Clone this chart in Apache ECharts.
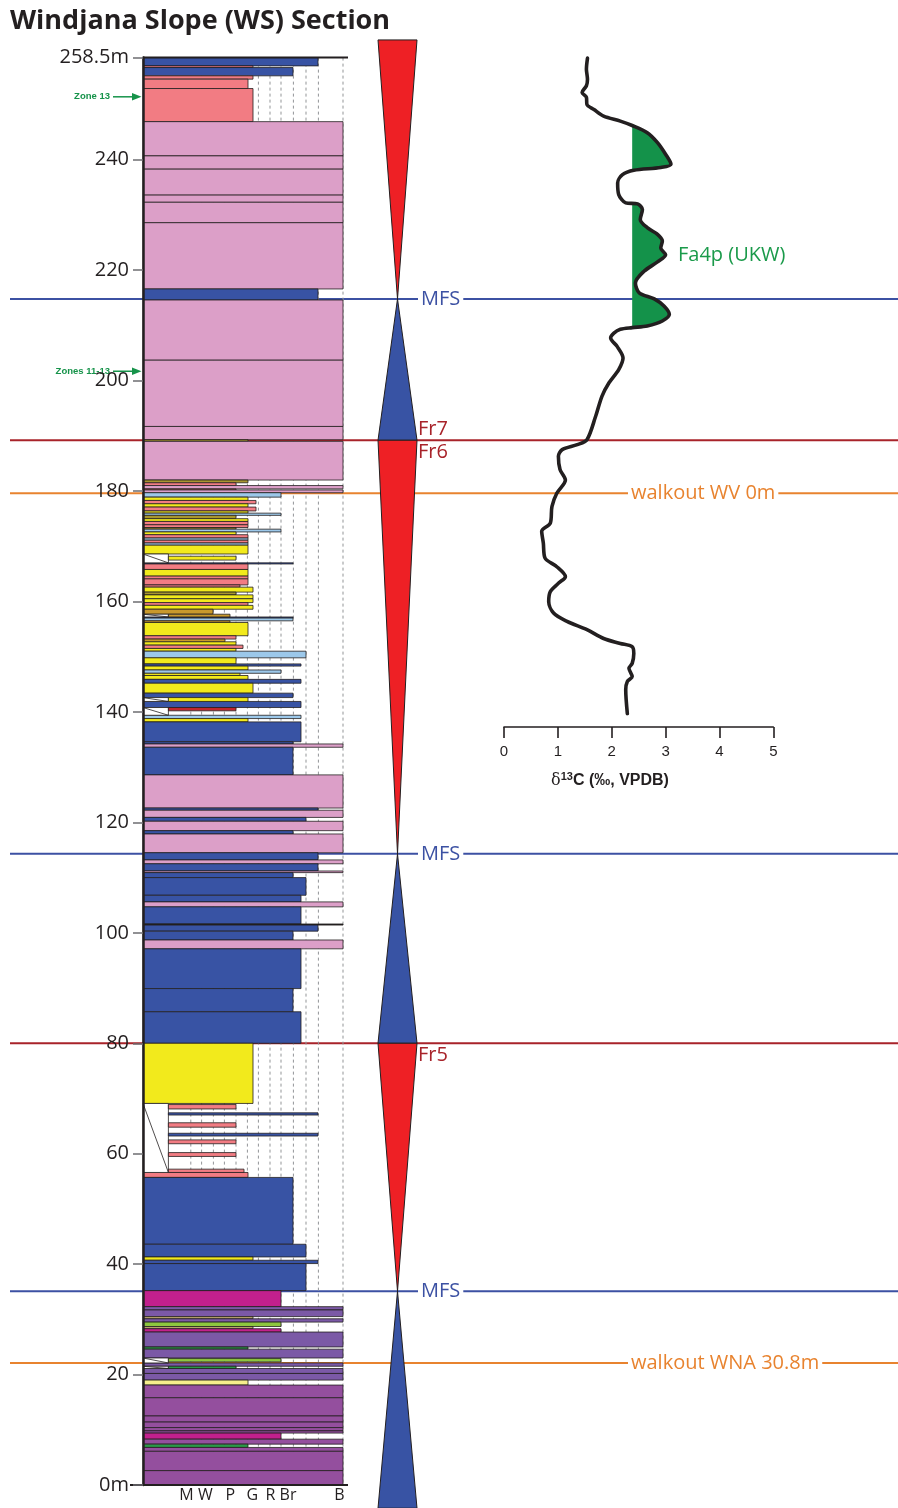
<!DOCTYPE html>
<html>
<head>
<meta charset="utf-8">
<title>Windjana Slope (WS) Section</title>
<script src="https://cdn.jsdelivr.net/npm/echarts@6/dist/echarts.min.js"></script>
<style>
  html, body { margin: 0; padding: 0; background: #ffffff; }
  #chart { width: 898px; height: 1508px; }
</style>
</head>
<body>
<div id="chart"></div>
<script>
// ---------------------------------------------------------------
// Section data (depths in metres above base of section)
// ---------------------------------------------------------------
const depthTicks = [0, 20, 40, 60, 80, 100, 120, 140, 160, 180, 200, 220, 240, 258.5];
const sectionTop = 258.5;

// Texture scale across the column (Dunham classes)
const grainLabels = ['M', 'W', 'P', 'G', 'R', 'Br', 'B'];
const grainLabelPos = [2.17, 3.12, 4.36, 5.47, 6.37, 7.25, 9.82];
const grainGuides = [2.39, 2.93, 3.52, 4.07, 4.65, 5.22, 5.77, 6.35, 6.9, 7.52, 8.15, 8.77, 10];

// Beds: [top, base, texture, lithofacies]
const upperBeds = [
  [258.5, 257.0, 8.75, 'blue'], [257.0, 256.7, 5.5, 'salmon'], [256.7, 255.2, 7.5, 'blue'],
  [255.2, 254.6, 5.5, 'salmon'], [254.6, 252.9, 5.25, 'salmon'], [252.9, 246.9, 5.5, 'salmon'],
  [246.9, 240.7, 10, 'pink'], [240.7, 238.3, 10, 'pink'], [238.3, 233.6, 10, 'pink'],
  [233.6, 232.3, 10, 'pink'], [232.3, 228.6, 10, 'pink'], [228.6, 216.6, 10, 'pink'],
  [216.6, 214.6, 8.75, 'blue'], [214.6, 203.7, 10, 'pink'], [203.7, 191.7, 10, 'pink'],
  [191.7, 189.3, 10, 'pink'], [189.3, 189.0, 5.25, 'olive'], [189.0, 182.0, 10, 'pink']
];
const thinBedsUpper = [
  [182.0, 181.5, 5.25, 'olive'], [181.5, 181.0, 4.65, 'salmon'], [181.0, 180.4, 10, 'pink'],
  [180.4, 180.2, 4.65, 'salmon'], [180.2, 179.7, 10, 'pink'], [179.7, 178.9, 6.9, 'lightblue'],
  [178.9, 178.3, 5.25, 'yellow'], [178.3, 177.7, 5.65, 'salmon'], [177.7, 177.1, 5.25, 'yellow'],
  [177.1, 176.4, 5.65, 'salmon'], [176.4, 176.0, 5.25, 'yellow'], [176.0, 175.6, 6.9, 'lightblue'],
  [175.6, 175.0, 4.65, 'olive'], [175.0, 174.5, 5.25, 'yellow'], [174.5, 173.9, 5.25, 'salmon'],
  [173.9, 173.4, 5.25, 'salmon'], [173.4, 173.1, 4.65, 'olive'], [173.1, 172.6, 6.9, 'lightblue'],
  [172.6, 172.1, 4.65, 'yellow'], [172.1, 171.5, 5.25, 'salmon'], [171.5, 171.1, 5.25, 'lightblue'],
  [171.1, 170.6, 5.25, 'salmon'], [170.6, 170.2, 5.25, 'lightblue'], [170.2, 168.6, 5.25, 'yellow'],
  [167.0, 166.8, 7.5, 'blue'], [166.8, 165.8, 5.25, 'salmon'], [165.8, 164.6, 5.25, 'yellow'],
  [164.6, 164.1, 5.25, 'salmon'], [164.1, 163.0, 5.25, 'salmon'], [163.0, 162.6, 4.85, 'salmon'],
  [162.6, 161.7, 5.5, 'yellow'], [161.7, 161.2, 4.65, 'olive'], [161.2, 160.5, 5.5, 'yellow'],
  [160.5, 159.8, 5.5, 'yellow'], [159.8, 159.3, 5.25, 'salmon'], [159.3, 158.6, 5.5, 'yellow'],
  [158.6, 157.7, 3.5, 'gold']
];
const thinBedsLower = [
  [157.2, 157.0, 7.5, 'blue'], [157.0, 156.5, 7.5, 'lightblue'], [156.5, 156.2, 4.35, 'gold'],
  [156.2, 153.8, 5.25, 'yellow'], [153.8, 153.2, 4.65, 'salmon'], [153.2, 152.7, 4.1, 'gold'],
  [152.7, 152.1, 4.65, 'yellow'], [152.1, 151.5, 5.0, 'salmon'], [151.5, 151.0, 4.65, 'yellow'],
  [151.0, 149.8, 8.15, 'lightblue'], [149.8, 148.7, 4.65, 'yellow'], [148.7, 148.3, 7.9, 'blue'],
  [148.3, 147.6, 5.25, 'yellow'], [147.6, 147.0, 6.9, 'lightblue'], [147.0, 146.6, 4.85, 'yellow'],
  [146.6, 145.9, 5.25, 'yellow'], [145.9, 145.2, 7.9, 'blue'], [145.2, 143.4, 5.5, 'yellow'],
  [143.4, 142.6, 7.5, 'blue'], [141.9, 140.8, 7.9, 'blue'], [139.4, 138.8, 7.9, 'lightblue'],
  [138.8, 138.2, 5.25, 'yellow']
];
const middleBeds = [
  [138.2, 134.6, 7.9, 'blue'], [134.6, 134.2, 7.5, 'blue'], [134.2, 133.6, 10, 'pink'],
  [133.6, 128.6, 7.5, 'blue'], [128.6, 122.6, 10, 'pink'], [122.6, 122.2, 8.75, 'blue'],
  [122.2, 120.9, 10, 'pink'], [120.9, 120.2, 8.15, 'blue'], [120.2, 118.5, 10, 'pink'],
  [118.5, 117.9, 7.5, 'blue'], [117.9, 114.5, 10, 'pink'], [114.5, 113.2, 8.75, 'blue'],
  [113.2, 112.5, 10, 'pink'], [112.5, 111.2, 8.75, 'blue'], [111.2, 110.9, 10, 'pink'],
  [110.9, 110.0, 7.5, 'blue'], [110.0, 106.8, 8.15, 'blue'], [106.8, 105.6, 7.9, 'blue'],
  [105.6, 104.7, 10, 'pink'], [104.7, 101.6, 7.9, 'blue'], [101.6, 101.4, 10, 'dark'],
  [101.4, 100.3, 8.75, 'blue'], [100.3, 98.7, 7.5, 'blue'], [98.7, 97.1, 10, 'pink'],
  [97.1, 89.9, 7.9, 'blue'], [89.9, 85.7, 7.5, 'blue'], [85.7, 80.0, 7.9, 'blue'],
  [80.0, 69.1, 5.5, 'yellow']
];
const lowerBeds = [
  [56.6, 55.7, 5.25, 'salmon'], [55.7, 43.6, 7.5, 'blue'], [43.6, 41.3, 8.15, 'blue'],
  [41.3, 40.7, 5.5, 'yellow'], [40.7, 40.1, 8.75, 'blue'], [40.1, 35.2, 8.15, 'blue'],
  [35.2, 32.3, 6.9, 'magenta'], [32.3, 31.7, 10, 'purple'], [31.7, 30.5, 10, 'purple'],
  [30.5, 30.1, 5.5, 'tan'], [30.1, 29.5, 10, 'purple'], [29.5, 28.7, 6.9, 'lightgreen'],
  [28.7, 28.3, 5.5, 'tan'], [28.3, 27.7, 6.9, 'magenta'], [27.7, 25.0, 10, 'purple'],
  [25.0, 24.6, 5.25, 'green'], [24.6, 23.0, 10, 'purple'], [22.1, 21.5, 10, 'purple'],
  [21.1, 20.2, 10, 'purple'], [20.2, 19.0, 10, 'purple'], [19.0, 18.1, 5.25, 'lightyellow'],
  [18.1, 15.8, 10, 'purple2'], [15.8, 12.5, 10, 'purple2'], [12.5, 11.4, 10, 'purple2'],
  [11.4, 10.4, 10, 'purple2'], [10.4, 9.8, 10, 'purple2'], [9.8, 9.4, 10, 'purple2'],
  [9.4, 8.3, 6.9, 'magenta'], [8.3, 7.4, 10, 'purple2'], [7.4, 6.8, 5.25, 'green'],
  [6.8, 6.1, 10, 'purple2'], [6.1, 2.6, 10, 'purple2'], [2.6, 0.0, 10, 'purple2']
];

// Covered (no exposure) intervals: [top, base]
const coveredIntervals = [
  [168.6, 167.0], [157.7, 157.2], [142.6, 141.9], [140.8, 139.4],
  [69.1, 56.6], [23.0, 22.1], [21.5, 21.1]
];
// Float beds inside covered intervals: [top, base, texture, lithofacies]
const coveredBeds = [
  [168.2, 167.5, 4.65, 'yellow'], [157.7, 157.2, 4.35, 'gold'], [142.6, 141.9, 5.25, 'yellow'],
  [140.8, 140.2, 4.65, 'darkred'], [68.9, 68.1, 4.65, 'salmon'], [67.4, 67.0, 8.75, 'blue'],
  [65.6, 64.8, 4.65, 'salmon'], [63.7, 63.2, 8.75, 'blue'], [62.5, 61.8, 4.65, 'salmon'],
  [60.2, 59.5, 4.65, 'salmon'], [57.2, 56.6, 5.05, 'salmon'], [22.9, 22.3, 6.9, 'lightgreen'],
  [21.5, 21.1, 4.65, 'green']
];
const coverWidth = 1.27;

// Biostratigraphic markers
const zoneDepths = [251.4, 201.7];
const zoneLabels = ['Zone 13', 'Zones 11-13'];

// Sequence wedges: [wide end, apex, half-cycle]
const sequenceWedges = [
  [261.7, 214.8, 'regressive'], [189.2, 214.8, 'transgressive'],
  [189.2, 114.3, 'regressive'], [80.0, 114.3, 'transgressive'],
  [80.0, 35.1, 'regressive'], [-4.2, 35.1, 'transgressive']
];

// Correlation surfaces
const surfaceDepths = [214.8, 189.2, 179.6, 114.3, 80.0, 35.1, 22.1];
const surfaceKinds = ['mfs', 'fr', 'walkout', 'mfs', 'fr', 'mfs', 'walkout'];
const surfaceLabelsAbove = ['', 'Fr7', '', '', '', '', ''];
const surfaceLabelsOn = ['MFS', '', 'walkout WV 0m', 'MFS', '', 'MFS', 'walkout WNA 30.8m'];
const surfaceLabelsBelow = ['', 'Fr6', '', '', 'Fr5', '', ''];

// Carbon isotope profile (δ13C ‰ VPDB) against depth
const isoDepth = [
  258.4, 256.4, 254.6, 253.4, 252.2, 251.3, 250.0, 249.1, 247.9, 247.0,
  246.2, 244.9, 243.1, 241.0, 239.2, 238.6, 238.1, 237.3, 235.8, 233.7,
  232.2, 232.0, 231.0, 229.2, 227.7, 226.5, 225.3, 224.0, 222.8, 221.5,
  219.8, 217.7, 215.9, 214.8, 213.5, 212.0, 210.8, 209.9, 209.6, 209.3,
  208.6, 207.7, 206.2, 204.1, 202.0, 199.6, 197.2, 193.5, 189.3, 188.4,
  187.5, 186.3, 183.9, 182.0, 179.6, 177.2, 174.2, 172.7, 170.6, 167.9,
  166.3, 164.5, 163.3, 161.8, 160.0, 157.9, 156.4, 154.9, 153.3, 152.4,
  151.8, 150.6, 148.8, 147.9, 146.4, 145.5, 144.0, 139.7
];
const isoValue = [
  1.55, 1.53, 1.55, 1.53, 1.45, 1.53, 1.54, 1.67, 1.85, 2.16,
  2.38, 2.66, 2.85, 3.00, 3.10, 2.91, 2.41, 2.20, 2.11, 2.13,
  2.26, 2.48, 2.57, 2.53, 2.66, 2.85, 2.94, 2.91, 3.00, 2.85,
  2.60, 2.44, 2.51, 2.79, 2.97, 3.07, 2.94, 2.66, 2.38, 2.16,
  2.04, 1.98, 2.10, 2.21, 2.13, 1.95, 1.82, 1.70, 1.54, 1.36,
  1.08, 1.01, 1.04, 1.14, 0.98, 0.89, 0.86, 0.70, 0.73, 0.76,
  0.98, 1.14, 1.01, 0.86, 0.83, 0.92, 1.17, 1.54, 1.85, 2.16,
  2.38, 2.41, 2.38, 2.32, 2.38, 2.29, 2.26, 2.29
];
const isoTicks = [0, 1, 2, 3, 4, 5];
// Fa4p (UKW) positive excursion: baseline value and depth range
const fa4pBaseline = 2.38;
const fa4pRange = [209.6, 246.2];
const fa4pLabelAt = [3.23, 222.7];

// ---------------------------------------------------------------
// Styles
// ---------------------------------------------------------------
const lithColors = {
  pink: '#dc9fc8', blue: '#3853a4', salmon: '#f27c83', yellow: '#f2ea1c',
  lightblue: '#9cc8ea', olive: '#a8962f', gold: '#c9992c', darkred: '#c1272d',
  magenta: '#c2208d', purple: '#7b59a6', purple2: '#944f9e', lightgreen: '#8dc63f',
  green: '#2a9a48', lightyellow: '#f6ee8c', tan: '#bba66c', dark: '#231f20'
};
const INK = '#231f20';
const MFS_BLUE = '#3c51a3';
const FR_RED = '#a8232a';
const WALK_ORANGE = '#e8832f';
const ZONE_GREEN = '#16934a';
const LABEL_FONT = '"Open Sans", "Noto Sans", sans-serif';
const SEQ_LABEL_X = 418;
const WALKOUT_LABEL_X = 628;

const GRID_TOP = 57.6;
const GRID_BOTTOM = 23;

const allBeds = [].concat(upperBeds, thinBedsUpper, thinBedsLower, middleBeds, lowerBeds);

function bedRect(api, x0, top, x1, base, fill) {
  const p0 = api.coord([x0, top]);
  const p1 = api.coord([x1, base]);
  return {
    type: 'rect',
    shape: { x: p0[0], y: p0[1], width: p1[0] - p0[0], height: p1[1] - p0[1] },
    style: { fill: fill, stroke: INK, lineWidth: 0.8 }
  };
}

const chart = echarts.init(document.getElementById('chart'), null, { renderer: 'canvas' });

const option = {
  backgroundColor: '#ffffff',
  animation: false,
  graphic: [
    {
      type: 'text', left: 10, top: 8, z: 20,
      style: { text: 'Windjana Slope (WS) Section', font: 'bold 27px "Open Sans", sans-serif', fill: INK }
    },
    {
      type: 'text', x: 610, y: 780, z: 20,
      style: {
        text: '{d|δ}{s|13}{c|C (‰, VPDB)}',
        align: 'center', verticalAlign: 'middle', textAlign: 'center', textVerticalAlign: 'middle',
        rich: {
          d: { font: '16px "DejaVu Serif", serif', fill: INK, verticalAlign: 'bottom' },
          s: { font: 'bold 11px "Liberation Sans", Arial, sans-serif', fill: INK, verticalAlign: 'top', padding: [0, 0, 6, 0] },
          c: { font: 'bold 16px "Liberation Sans", Arial, sans-serif', fill: INK, verticalAlign: 'bottom' }
        }
      }
    }
  ],
  grid: [
    { left: 143, width: 200, top: GRID_TOP, bottom: GRID_BOTTOM },
    { left: 378, width: 39, top: GRID_TOP, bottom: GRID_BOTTOM },
    { left: 10, right: 0, top: GRID_TOP, bottom: GRID_BOTTOM },
    { left: 504, width: 269.3, top: GRID_TOP, bottom: 781 }
  ],
  xAxis: [
    {
      gridIndex: 0, type: 'value', min: 0, max: 10,
      axisLine: { show: false }, axisTick: { show: false }, splitLine: { show: false },
      axisLabel: {
        customValues: grainLabelPos,
        formatter: function (v) { return grainLabels[grainLabelPos.indexOf(v)] || ''; },
        fontSize: 16, fontFamily: LABEL_FONT, color: INK, margin: 2
      }
    },
    { gridIndex: 1, type: 'value', min: -1, max: 1, show: false },
    { gridIndex: 2, type: 'value', min: 0, max: 1, show: false },
    {
      gridIndex: 3, type: 'value', min: 0, max: 5, interval: 1, position: 'bottom',
      axisLine: { show: true, onZero: false, lineStyle: { color: INK, width: 1.6 } },
      axisTick: { show: true, length: 11, lineStyle: { color: INK, width: 1.6 } },
      splitLine: { show: false },
      axisLabel: {
        customValues: isoTicks, fontSize: 15, color: INK, margin: 17,
        fontFamily: '"Liberation Sans", Arial, sans-serif'
      }
    }
  ],
  yAxis: [
    {
      gridIndex: 0, type: 'value', min: 0, max: sectionTop, z: 10,
      axisLine: { show: true, onZero: false, lineStyle: { color: INK, width: 2.5 } },
      axisTick: { show: true, customValues: depthTicks, length: 10, lineStyle: { color: '#6d6e71', width: 1.5 } },
      splitLine: { show: false },
      axisLabel: {
        customValues: depthTicks,
        formatter: function (v) { return (v === 0 || v === sectionTop) ? v + 'm' : String(v); },
        fontSize: 20, fontFamily: LABEL_FONT, color: INK, margin: 14
      }
    },
    { gridIndex: 1, type: 'value', min: 0, max: sectionTop, show: false },
    { gridIndex: 2, type: 'value', min: 0, max: sectionTop, show: false },
    { gridIndex: 3, type: 'value', min: 137.27, max: sectionTop, show: false }
  ],
  series: [
    // correlation surfaces across the whole panel
    {
      type: 'custom', name: 'surfaces', xAxisIndex: 2, yAxisIndex: 2, z: 1, clip: false,
      data: surfaceDepths.map(function (d) { return [0, d]; }),
      renderItem: function (params, api) {
        const i = params.dataIndex;
        const kind = surfaceKinds[i];
        const color = kind === 'mfs' ? MFS_BLUE : (kind === 'fr' ? FR_RED : WALK_ORANGE);
        const a = api.coord([0, surfaceDepths[i]]);
        const b = api.coord([1, surfaceDepths[i]]);
        const children = [{
          type: 'line', shape: { x1: a[0], y1: a[1], x2: b[0], y2: b[1] },
          style: { stroke: color, lineWidth: 2 }
        }];
        const lx = kind === 'walkout' ? WALKOUT_LABEL_X : SEQ_LABEL_X;
        function txt(t, dy, bg) {
          const s = {
            text: t, x: lx, y: a[1] + dy, fill: color, font: '20px ' + LABEL_FONT,
            align: 'left', verticalAlign: 'middle', textAlign: 'left', textVerticalAlign: 'middle'
          };
          if (bg) { s.backgroundColor = '#ffffff'; s.padding = [0, 3, 0, 3]; }
          return { type: 'text', z2: 5, style: s };
        }
        if (surfaceLabelsOn[i]) children.push(txt(surfaceLabelsOn[i], 0, true));
        if (surfaceLabelsAbove[i]) children.push(txt(surfaceLabelsAbove[i], -11, false));
        if (surfaceLabelsBelow[i]) children.push(txt(surfaceLabelsBelow[i], 12, false));
        return { type: 'group', children: children };
      }
    },
    // texture guide lines behind the column
    {
      type: 'custom', name: 'guides', xAxisIndex: 0, yAxisIndex: 0, z: 2, clip: false,
      data: grainGuides.map(function (g) { return [g, 0]; }),
      renderItem: function (params, api) {
        const g = grainGuides[params.dataIndex];
        const a = api.coord([g, sectionTop]);
        const b = api.coord([g, 0]);
        return {
          type: 'line', shape: { x1: a[0], y1: a[1], x2: b[0], y2: b[1] },
          style: { stroke: '#939598', lineWidth: 1, lineDash: [3, 3] }
        };
      }
    },
    // lithological column
    {
      type: 'custom', name: 'beds', xAxisIndex: 0, yAxisIndex: 0, z: 3, clip: false,
      data: allBeds.map(function (b) { return [b[2], b[0], b[1]]; }),
      renderItem: function (params, api) {
        const b = allBeds[params.dataIndex];
        return bedRect(api, 0, b[0], b[2], b[1], lithColors[b[3]]);
      }
    },
    // covered intervals with diagonal hatch
    {
      type: 'custom', name: 'covered', xAxisIndex: 0, yAxisIndex: 0, z: 3, clip: false,
      data: coveredIntervals.map(function (c) { return [0, c[0], c[1]]; }),
      renderItem: function (params, api) {
        const c = coveredIntervals[params.dataIndex];
        const p0 = api.coord([0, c[0]]);
        const p1 = api.coord([coverWidth, c[1]]);
        return {
          type: 'group', children: [
            bedRect(api, 0, c[0], coverWidth, c[1], '#ffffff'),
            { type: 'line', shape: { x1: p0[0], y1: p0[1], x2: p1[0], y2: p1[1] }, style: { stroke: INK, lineWidth: 0.8 } }
          ]
        };
      }
    },
    {
      type: 'custom', name: 'coveredBeds', xAxisIndex: 0, yAxisIndex: 0, z: 3, clip: false,
      data: coveredBeds.map(function (b) { return [b[2], b[0], b[1]]; }),
      renderItem: function (params, api) {
        const b = coveredBeds[params.dataIndex];
        return bedRect(api, coverWidth, b[0], b[2], b[1], lithColors[b[3]]);
      }
    },
    // top and base of measured section
    {
      type: 'custom', name: 'frame', xAxisIndex: 0, yAxisIndex: 0, z: 4, clip: false,
      data: [[0, 0], [0, sectionTop]],
      renderItem: function (params, api) {
        const d = params.dataIndex === 0 ? 0 : sectionTop;
        const a = api.coord([params.dataIndex === 0 ? -0.65 : 0, d]);
        const b = api.coord([10.25, d]);
        return {
          type: 'line', shape: { x1: a[0], y1: a[1], x2: b[0], y2: b[1] },
          style: { stroke: INK, lineWidth: 2 }
        };
      }
    },
    // conodont zone markers
    {
      type: 'custom', name: 'zones', xAxisIndex: 0, yAxisIndex: 0, z: 4, clip: false,
      data: zoneDepths.map(function (d) { return [0, d]; }),
      renderItem: function (params, api) {
        const p = api.coord([0, zoneDepths[params.dataIndex]]);
        const x = p[0], y = p[1];
        return {
          type: 'group', children: [
            { type: 'line', shape: { x1: x - 30, y1: y, x2: x - 10, y2: y }, style: { stroke: ZONE_GREEN, lineWidth: 1.5 } },
            { type: 'polygon', shape: { points: [[x - 11, y - 3.8], [x - 1.5, y], [x - 11, y + 3.8]] }, style: { fill: ZONE_GREEN } },
            {
              type: 'text', style: {
                text: zoneLabels[params.dataIndex], x: x - 33, y: y, fill: ZONE_GREEN,
                font: 'bold 9.5px "Liberation Sans", Arial, sans-serif',
                align: 'right', verticalAlign: 'middle', textAlign: 'right', textVerticalAlign: 'middle'
              }
            }
          ]
        };
      }
    },
    // transgressive / regressive wedges
    {
      type: 'custom', name: 'sequences', xAxisIndex: 1, yAxisIndex: 1, z: 3, clip: false,
      data: sequenceWedges.map(function (w) { return [0, w[0], w[1]]; }),
      renderItem: function (params, api) {
        const w = sequenceWedges[params.dataIndex];
        const a = api.coord([-1, w[0]]);
        const b = api.coord([1, w[0]]);
        const c = api.coord([0, w[1]]);
        return {
          type: 'polygon', shape: { points: [a, b, c] },
          style: { fill: w[2] === 'regressive' ? '#ee2025' : '#3853a4', stroke: INK, lineWidth: 1 }
        };
      }
    },
    // Fa4p (UKW) excursion shading
    {
      type: 'custom', name: 'Fa4p (UKW)', xAxisIndex: 3, yAxisIndex: 3, z: 4, clip: false,
      data: [[fa4pBaseline, fa4pRange[1]]],
      renderItem: function (params, api) {
        const polys = [];
        let cur = null;
        for (let i = 0; i < isoDepth.length; i++) {
          const d = isoDepth[i], v = isoValue[i];
          const inside = v >= fa4pBaseline && d >= fa4pRange[0] && d <= fa4pRange[1];
          if (inside) {
            if (!cur) {
              cur = [];
              if (i > 0 && isoValue[i - 1] < fa4pBaseline) {
                const t = (fa4pBaseline - isoValue[i - 1]) / (v - isoValue[i - 1]);
                cur.push([fa4pBaseline, isoDepth[i - 1] + t * (d - isoDepth[i - 1])]);
              } else {
                cur.push([fa4pBaseline, d]);
              }
            }
            cur.push([v, d]);
          } else if (cur) {
            if (isoValue[i] < fa4pBaseline) {
              const pv = isoValue[i - 1], pd = isoDepth[i - 1];
              const t = (pv - fa4pBaseline) / (pv - v);
              cur.push([fa4pBaseline, pd + t * (d - pd)]);
            }
            polys.push(cur);
            cur = null;
          }
        }
        if (cur) polys.push(cur);
        const children = polys.map(function (pts) {
          return {
            type: 'polygon',
            shape: { points: pts.map(function (p) { return api.coord(p); }) },
            style: { fill: '#14924a' }
          };
        });
        const lp = api.coord(fa4pLabelAt);
        children.push({
          type: 'text', style: {
            text: 'Fa4p (UKW)', x: lp[0], y: lp[1], fill: '#1a9a4a', font: '20px ' + LABEL_FONT,
            align: 'left', verticalAlign: 'middle', textAlign: 'left', textVerticalAlign: 'middle'
          }
        });
        return { type: 'group', children: children };
      }
    },
    // δ13C curve
    {
      type: 'line', name: 'd13C', xAxisIndex: 3, yAxisIndex: 3, z: 5,
      data: isoDepth.map(function (d, i) { return [isoValue[i], d]; }),
      symbol: 'none', smooth: 0.3,
      lineStyle: { color: INK, width: 3.6, cap: 'round', join: 'round' }
    }
  ]
};

chart.setOption(option);
</script>
</body>
</html>
